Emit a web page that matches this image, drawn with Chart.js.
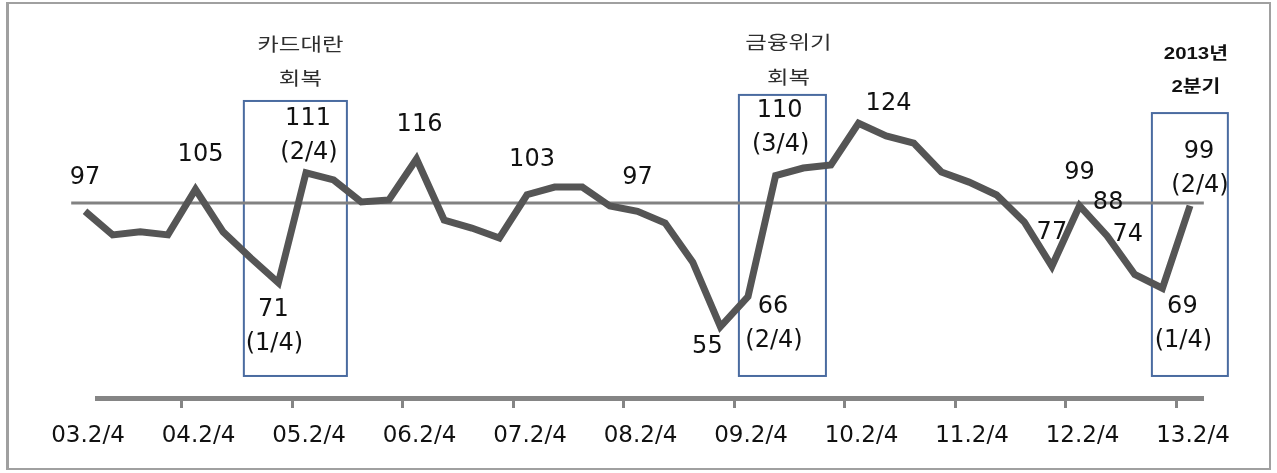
<!DOCTYPE html>
<html>
<head>
<meta charset="utf-8">
<script src="https://cdn.jsdelivr.net/npm/chart.js@4"></script>
<style>
  html, body { margin: 0; padding: 0; background: #fff; }
  #wrap { position: relative; width: 1277px; height: 473px; }
  #frame { position: absolute; left: 6px; top: 2px; width: 1260px; height: 464px; border: 2px solid #a0a0a0; border-left-width: 3px; }
  canvas { position: absolute; left: 0; top: 0; }
</style>
</head>
<body>
<div id="wrap">
  <div id="frame"></div>
  <canvas id="chart" width="1277" height="473"></canvas>
</div>
<script>
// quarterly index, 03.2/4 .. 13.2/4
const xLabels = ['03.2/4', '04.2/4', '05.2/4', '06.2/4', '07.2/4', '08.2/4', '09.2/4', '10.2/4', '11.2/4', '12.2/4', '13.2/4'];
const bsi = [97, 88.4, 89.5, 88.4, 105, 89.5, 80, 71, 111, 108.4, 100.4, 101.1, 116, 93.8, 90.9, 87.3,
  103, 105.8, 105.8, 98.9, 97, 92.7, 78.5, 55, 66, 110, 112.7, 113.8, 129, 124.4, 121.8,
  111.3, 107.6, 102.9, 93.1, 77, 99, 88, 74, 69, 99];
const baseline = 100;

// labelled points
const labelIndex = [0, 4, 7, 8, 12, 16, 20, 23, 24, 25, 28, 35, 36, 37, 38, 39, 40];
const labelValue = ['97', '105', '71', '111', '116', '103', '97', '55', '66', '110', '124', '77', '99', '88', '74', '69', '99'];
const labelQuarter = ['', '', '(1/4)', '(2/4)', '', '', '', '', '(2/4)', '(3/4)', '', '', '', '', '', '(1/4)', '(2/4)'];

// highlighted periods
const boxTitles = [['카드대란', '회복'], ['금융위기', '회복'], ['2013년', '2분기']];

// placement (px offsets from the point) for the labels above
const labelOffsets = [[0, -33], [5, -34], [-5, 27], [2, -54], [3, -34], [5, -35], [0, -33], [-13, 20], [25, 10],
  [4, -65], [30, -19], [0, -33], [0, -33], [1, -33], [-7, -40], [20, 19], [9, -54]];
// boxes in axis units, title y in px
const boxes = [
  { x0: 5.75, x1: 9.48, top: 137.1, bottom: 37.1, t1: 44, t2: 78, dx: 5 },
  { x0: 23.67, x1: 26.82, top: 139.3, bottom: 37.1, t1: 42, t2: 77, dx: 6 },
  { x0: 38.62, x1: 41.37, top: 132.7, bottom: 37.1, t1: 54, t2: 87, dx: 6 }
];

function drawText(ctx, str, x, y, font, color, sx) {
  ctx.save();
  ctx.translate(x, y);
  ctx.scale(sx, 1);
  ctx.font = font;
  ctx.fillStyle = color;
  ctx.textAlign = 'center';
  ctx.textBaseline = 'middle';
  ctx.fillText(str, 0, 0);
  ctx.restore();
}

const annotate = {
  id: 'annotate',
  beforeDatasetsDraw(chart) {
    const { ctx, scales: { x, y } } = chart;
    ctx.save();
    ctx.strokeStyle = '#4a6ba0';
    ctx.lineWidth = 2;
    boxes.forEach(b => {
      const l = x.getPixelForValue(b.x0), r = x.getPixelForValue(b.x1);
      const t = y.getPixelForValue(b.top), bt = y.getPixelForValue(b.bottom);
      ctx.strokeRect(l, t, r - l, bt - t);
    });
    ctx.restore();
  },
  afterDatasetsDraw(chart) {
    const { ctx, scales: { x, y } } = chart;
    const numFont = '24px "DejaVu Sans", sans-serif';
    labelIndex.forEach((idx, k) => {
      const px = x.getPixelForValue(idx) + labelOffsets[k][0];
      const py = y.getPixelForValue(bsi[idx]) + labelOffsets[k][1];
      drawText(ctx, labelValue[k], px, py, numFont, '#111', 1);
      if (labelQuarter[k]) drawText(ctx, labelQuarter[k], px + 1, py + 34, numFont, '#111', 1);
    });
    boxes.forEach((b, k) => {
      const cx = (x.getPixelForValue(b.x0) + x.getPixelForValue(b.x1)) / 2 + b.dx;
      if (k < 2) {
        const f = '18px "Noto Sans CJK KR", sans-serif';
        drawText(ctx, boxTitles[k][0], cx, b.t1, f, '#2e2e2e', 1.3);
        drawText(ctx, boxTitles[k][1], cx, b.t2, f, '#2e2e2e', 1.3);
      } else {
        const f = 'bold 17px "Liberation Sans", "Noto Sans CJK KR", sans-serif';
        drawText(ctx, boxTitles[k][0], cx, b.t1, f, '#111', 1.2);
        drawText(ctx, boxTitles[k][1], cx, b.t2, f, '#111', 1.2);
      }
    });
  }
};

const ctx = document.getElementById('chart').getContext('2d');
new Chart(ctx, {
  type: 'line',
  data: {
    datasets: [
      {
        data: bsi.map((v, i) => ({ x: i, y: v })),
        borderColor: '#555555',
        borderWidth: 7,
        pointRadius: 0,
        tension: 0,
        clip: false
      },
      {
        data: [{ x: -0.5, y: baseline }, { x: 40.5, y: baseline }],
        borderColor: '#828282',
        borderWidth: 3,
        pointRadius: 0,
        clip: false
      }
    ]
  },
  options: {
    responsive: false,
    animation: false,
    devicePixelRatio: 1,
    layout: { padding: { left: 97, right: 74, top: 10, bottom: 0 } },
    plugins: { legend: { display: false }, tooltip: { enabled: false } },
    scales: {
      x: {
        type: 'linear',
        min: 0.434,
        max: 40.47,
        afterBuildTicks: s => { s.ticks = xLabels.map((_, k) => ({ value: k * 4 - 0.49 })); },
        afterFit: s => { s.height = 75; s.paddingLeft = 0; s.paddingRight = 0; },
        border: { color: '#858585', width: 5 },
        grid: {
          drawOnChartArea: false,
          drawTicks: true,
          tickLength: 10,
          tickWidth: 3,
          tickColor: c => c.index === 0 ? 'rgba(0,0,0,0)' : '#858585'
        },
        ticks: {
          autoSkip: false,
          maxRotation: 0,
          padding: 14,
          labelOffset: 16.5,
          color: '#111',
          font: { family: 'DejaVu Sans', size: 23 },
          callback: (v, i) => xLabels[i]
        }
      },
      y: { display: false, min: 29.09, max: 170.18 }
    }
  },
  plugins: [annotate]
});
</script>
</body>
</html>
